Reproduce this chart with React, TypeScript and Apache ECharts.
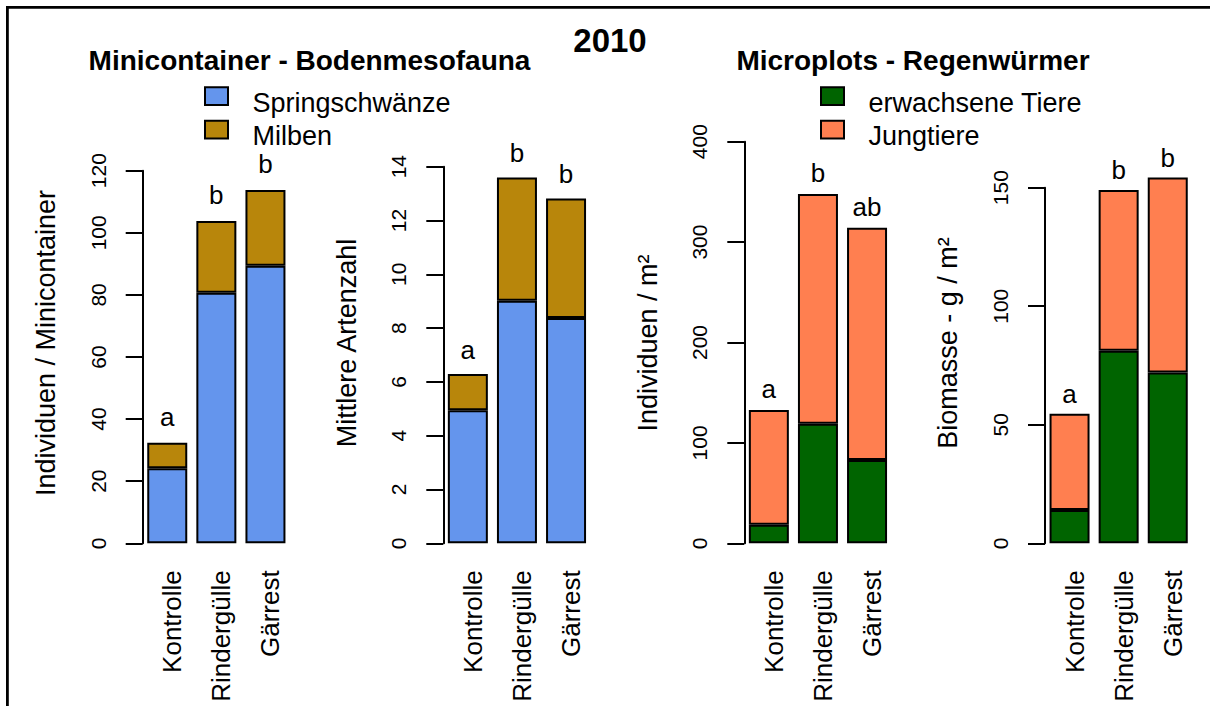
import React, { useEffect, useRef } from "react";
import * as echarts from "echarts";

// ---- data ----
const categories = ["Kontrolle", "Rindergülle", "Gärrest"];

const springschwaenze = [24.2, 80.7, 89.4];
const milben = [8.2, 23.1, 24.4];

const artenSpringschwaenze = [4.95, 9.02, 8.38];
const artenMilben = [1.34, 4.58, 4.44];

const wurmErwachsen = [18.5, 119.1, 83.0];
const wurmJung = [114.3, 228.8, 231.3];

const biomasseErwachsen = [14.0, 81.2, 72.0];
const biomasseJung = [40.6, 67.8, 82.3];

const lettersMini = ["a", "b", "b"];
const lettersArten = ["a", "b", "b"];
const lettersWurm = ["a", "b", "ab"];
const lettersBio = ["a", "b", "b"];

const yMax = [120, 14, 400, 150];
const yInterval = [20, 2, 100, 50];

const legendMeso = ["Springschwänze", "Milben"];
const legendWurm = ["erwachsene Tiere", "Jungtiere"];

// ---- layout / style ----
const FONT = "'Liberation Sans', Arial, Helvetica, sans-serif";
const BOTTOM_Y = 543.3;
const BAND = 49.1;
const BLUE = "#6495ED";
const GOLD = "#B8860B";
const GREEN = "#006400";
const CORAL = "#FF7F50";

const panels = [
  { left: 142.7, top: 170.7, lower: springschwaenze, upper: milben, lowerName: legendMeso[0], upperName: legendMeso[1], lowerColor: BLUE, upperColor: GOLD, letters: lettersMini, yName: "Individuen / Minicontainer", dist: 13 },
  { left: 443.3, top: 166.7, lower: artenSpringschwaenze, upper: artenMilben, lowerName: legendMeso[0], upperName: legendMeso[1], lowerColor: BLUE, upperColor: GOLD, letters: lettersArten, yName: "Mittlere Artenzahl", dist: 11 },
  { left: 744.3, top: 141.7, lower: wurmErwachsen, upper: wurmJung, lowerName: legendWurm[0], upperName: legendWurm[1], lowerColor: GREEN, upperColor: CORAL, letters: lettersWurm, yName: "Individuen / m²", dist: 8 },
  { left: 1045, top: 187.7, lower: biomasseErwachsen, upper: biomasseJung, lowerName: legendWurm[0], upperName: legendWurm[1], lowerColor: GREEN, upperColor: CORAL, letters: lettersBio, yName: "Biomasse - g / m²", dist: 7 },
];

const legends = [
  { x: 205, names: legendMeso, colors: [BLUE, GOLD] },
  { x: 821, names: legendWurm, colors: [GREEN, CORAL] },
];

function buildOption() {
  const grid: any[] = [];
  const xAxis: any[] = [];
  const yAxis: any[] = [];
  const series: any[] = [];
  const graphic: any[] = [];

  panels.forEach((p, i) => {
    grid.push({ left: p.left, top: p.top, width: BAND * 3, height: BOTTOM_Y - p.top, containLabel: false });
    xAxis.push({
      type: "category",
      gridIndex: i,
      data: categories,
      axisLine: { show: false },
      axisTick: { show: false },
      splitLine: { show: false },
      axisLabel: {
        interval: 0,
        rotate: 90,
        margin: 27,
        fontSize: 26,
        color: "#000",
        fontFamily: FONT,
        verticalAlign: "top",
        lineHeight: 10,
      },
    });
    yAxis.push({
      type: "value",
      gridIndex: i,
      min: 0,
      max: yMax[i],
      interval: yInterval[i],
      axisLine: { show: true, lineStyle: { color: "#000", width: 2 } },
      axisTick: { show: true, length: 17, lineStyle: { color: "#000", width: 2 } },
      axisLabel: { rotate: 90, margin: 34, fontSize: 21, color: "#000", fontFamily: FONT },
      splitLine: { show: false },
    });
    series.push({
      type: "bar",
      name: p.lowerName,
      xAxisIndex: i,
      yAxisIndex: i,
      stack: "s" + i,
      data: p.lower,
      barWidth: 40,
      clip: false,
      itemStyle: { color: p.lowerColor, borderColor: "#000", borderWidth: 2 },
    });
    series.push({
      type: "bar",
      name: p.upperName,
      xAxisIndex: i,
      yAxisIndex: i,
      stack: "s" + i,
      data: p.upper,
      barWidth: 40,
      clip: false,
      itemStyle: { color: p.upperColor, borderColor: "#000", borderWidth: 2 },
      label: {
        show: true,
        position: "top",
        distance: p.dist,
        formatter: (params: any) => p.letters[params.dataIndex],
        fontSize: 26,
        color: "#000",
        fontFamily: FONT,
      },
    });
    graphic.push({
      type: "text",
      x: p.left - 96.7,
      y: 343,
      rotation: Math.PI / 2,
      style: { text: p.yName, font: `27px ${FONT}`, fill: "#000", align: "center", verticalAlign: "middle" },
    });
  });

  // legends
  legends.forEach((lg) => {
    lg.names.forEach((name, k) => {
      const top = 87.3 + k * 33.4;
      graphic.push({
        type: "rect",
        shape: { x: lg.x, y: top, width: 23, height: 17.7 },
        style: { fill: lg.colors[k], stroke: "#000", lineWidth: 2 },
      });
      graphic.push({
        type: "text",
        x: lg.x + 47.5,
        y: top + 15.5,
        style: { text: name, font: `27px ${FONT}`, fill: "#000", align: "left", verticalAlign: "middle" },
      });
    });
  });

  // outer frame (top and left edges)
  graphic.push({
    type: "polyline",
    shape: { points: [[7.4, 800], [7.4, 7.3], [1300, 7.3]] },
    style: { fill: "none", stroke: "#000", lineWidth: 2.8 },
    silent: true,
  });
  graphic.push({
    type: "text",
    x: 610,
    y: 40.5,
    style: { text: "2010", font: `bold 33px ${FONT}`, fill: "#000", align: "center", verticalAlign: "middle" },
  });
  graphic.push({
    type: "text",
    x: 309.5,
    y: 60,
    style: { text: "Minicontainer - Bodenmesofauna", font: `bold 28px ${FONT}`, fill: "#000", align: "center", verticalAlign: "middle" },
  });
  graphic.push({
    type: "text",
    x: 913,
    y: 60,
    style: { text: "Microplots - Regenwürmer", font: `bold 28px ${FONT}`, fill: "#000", align: "center", verticalAlign: "middle" },
  });

  return {
    animation: false,
    backgroundColor: "#fff",
    grid,
    xAxis,
    yAxis,
    series,
    graphic,
  };
}

export default function App() {
  const ref = useRef<HTMLDivElement>(null);
  useEffect(() => {
    if (!ref.current) return;
    const chart = echarts.init(ref.current, null, { renderer: "svg" });
    chart.setOption(buildOption() as any);
    return () => chart.dispose();
  }, []);
  return <div ref={ref} style={{ position: "absolute", left: 0, top: 0, width: 1210, height: 706, background: "#fff" }} />;
}
